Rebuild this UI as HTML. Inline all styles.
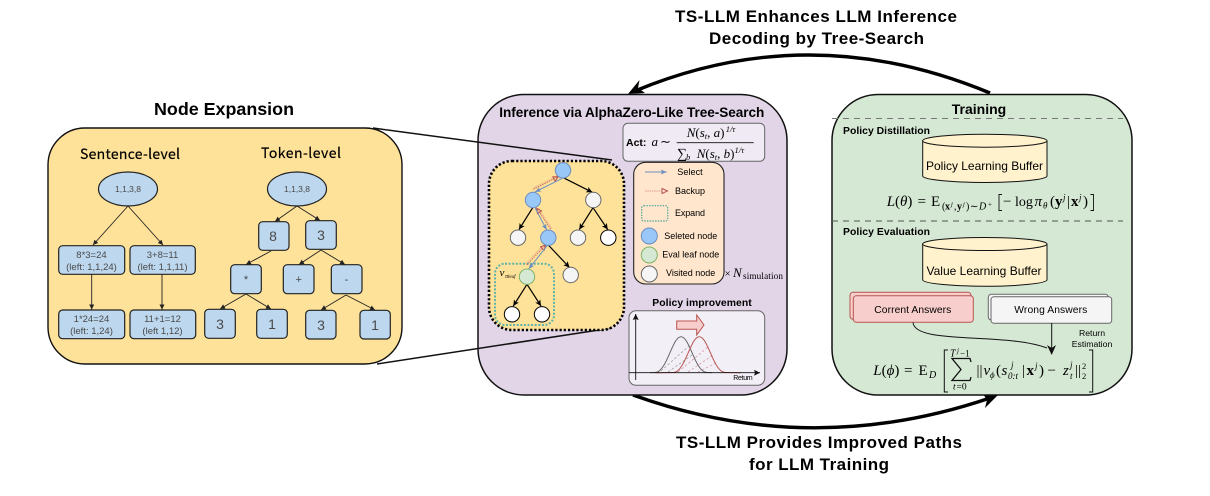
<!DOCTYPE html>
<html><head><meta charset="utf-8"><style>
html,body{margin:0;padding:0;background:#fff;width:1210px;height:496px;overflow:hidden}
svg{display:block}
text{font-family:"Liberation Sans",sans-serif;fill:#000}
.b{font-weight:bold}
.n{font-family:"Noto Sans CJK SC","Liberation Sans",sans-serif;stroke:#000;stroke-width:.2}
.m{text-anchor:middle}
.g{fill:#4a4a4a}
.s{font-family:"Liberation Serif",serif}
.i{font-family:"Liberation Serif",serif;font-style:italic}
.bd{font-family:"Liberation Serif",serif;font-weight:bold}
.bx{fill:#bdd7ee;stroke:#222;stroke-width:1.2}
.a1{stroke:#222;stroke-width:.9;fill:none;marker-end:url(#t)}
.t{stroke:#000;stroke-width:1.2;fill:none;marker-end:url(#v)}
.bl{fill:#99c7f8;stroke:#6c8ebf;stroke-width:1}
.gr{fill:#f5f5f5;stroke:#666;stroke-width:1}
.wh{fill:#fff;stroke:#000;stroke-width:1}
.ge{fill:#d5e8d4;stroke:#82b366;stroke-width:1}
.sel{stroke:#6c8ebf;stroke-width:1;fill:none;marker-end:url(#vb)}
.bk1{stroke:#f0c08c;stroke-width:1;fill:none}
.bk2{stroke:#c96a64;stroke-width:1;stroke-dasharray:1.5 1;fill:none;marker-end:url(#vr)}
</style></head><body>
<svg width="1210" height="496" viewBox="0 0 1210 496" xmlns="http://www.w3.org/2000/svg">
<defs>
<marker id="t" markerWidth="6" markerHeight="6" refX="5" refY="2.5" orient="auto" markerUnits="userSpaceOnUse"><path d="M0,0L5,2.5L0,5z" fill="#222"/></marker>
<marker id="v" markerWidth="8" markerHeight="8" refX="6" refY="3" orient="auto" markerUnits="userSpaceOnUse"><path d="M0,0L6,3L0,6L1.5,3z" fill="#000"/></marker>
<marker id="vb" markerWidth="8" markerHeight="8" refX="6" refY="3" orient="auto" markerUnits="userSpaceOnUse"><path d="M0,0.5L6,3L0,5.5L1.5,3z" fill="#6c8ebf"/></marker>
<marker id="vr" markerWidth="8" markerHeight="8" refX="5.5" refY="3" orient="auto" markerUnits="userSpaceOnUse"><path d="M0.5,0.5L5.5,3L0.5,5.5z" fill="none" stroke="#b85450" stroke-width="1"/></marker>
<marker id="k" markerWidth="8" markerHeight="8" refX="6" refY="3" orient="auto" markerUnits="userSpaceOnUse"><path d="M0,0L6,3L0,6L1,3z" fill="#111"/></marker>
</defs>

<!-- big arrows -->
<path d="M990,93 Q810,18 635,91" fill="none" stroke="#000" stroke-width="3.4"/>
<polygon points="628,94 639.5,80 638,88 645,93" fill="#000"/>
<path d="M633,395 Q810,459 990,398" fill="none" stroke="#000" stroke-width="3.4"/>
<polygon points="998,395 983,394 987,400 985,408" fill="#000"/>

<text class="b" x="675" y="22" font-size="17" textLength="282" lengthAdjust="spacing">TS-LLM Enhances LLM Inference</text>
<text class="b" x="709" y="44" font-size="17" textLength="215" lengthAdjust="spacing">Decoding by Tree-Search</text>
<text class="b" x="676" y="448" font-size="17" textLength="286" lengthAdjust="spacing">TS-LLM Provides Improved Paths</text>
<text class="b" x="749" y="470" font-size="17" textLength="140" lengthAdjust="spacing">for LLM Training</text>

<!-- Node expansion -->
<text class="b" x="154" y="115" font-size="17.9" textLength="140" lengthAdjust="spacing">Node Expansion</text>
<rect x="48" y="128" width="354" height="236" rx="37" fill="#ffe299" stroke="#111" stroke-width="1.4"/>
<text class="n" x="80" y="159" font-size="14" textLength="100" lengthAdjust="spacing">Sentence-level</text>
<text class="n" x="261" y="158" font-size="14" textLength="80" lengthAdjust="spacing">Token-level</text>

<ellipse cx="128" cy="189" rx="29.5" ry="17" class="bx"/>
<ellipse cx="297" cy="189" rx="29.5" ry="17" class="bx"/>
<text class="g m" x="128" y="192" font-size="8.5">1,1,3,8</text>
<text class="g m" x="297" y="192" font-size="8.5">1,1,3,8</text>

<line class="a1" x1="128" y1="206" x2="93" y2="245"/>
<line class="a1" x1="128" y1="206" x2="163" y2="245"/>
<line class="a1" x1="91.7" y1="274" x2="91.7" y2="309.5"/>
<line class="a1" x1="162" y1="274" x2="162" y2="309.5"/>
<line class="a1" x1="297" y1="206" x2="275" y2="221.5"/>
<line class="a1" x1="297" y1="206" x2="320" y2="220.5"/>
<line class="a1" x1="271" y1="251" x2="246" y2="264.5"/>
<line class="a1" x1="321" y1="250" x2="299" y2="264.5"/>
<line class="a1" x1="321" y1="250" x2="345" y2="264.5"/>
<line class="a1" x1="246" y1="294" x2="220" y2="309"/>
<line class="a1" x1="246" y1="294" x2="271" y2="309"/>
<line class="a1" x1="346" y1="295" x2="321" y2="310"/>
<line class="a1" x1="346" y1="295" x2="375" y2="310"/>

<rect class="bx" x="58.7" y="245.7" width="66" height="28.6" rx="4"/>
<rect class="bx" x="130" y="245.7" width="65.3" height="28.6" rx="4"/>
<rect class="bx" x="58.7" y="310" width="66" height="28.7" rx="4"/>
<rect class="bx" x="130" y="310" width="65.7" height="28.7" rx="4"/>
<text class="g m" x="91.5" y="258" font-size="9.5">8*3=24</text>
<text class="g m" x="91.5" y="270" font-size="9.5">(left: 1,1,24)</text>
<text class="g m" x="162.5" y="258" font-size="9.5">3+8=11</text>
<text class="g m" x="162.5" y="270" font-size="9.5">(left: 1,1,11)</text>
<text class="g m" x="91.5" y="322" font-size="9.5">1*24=24</text>
<text class="g m" x="91.5" y="334" font-size="9.5">(left: 1,24)</text>
<text class="g m" x="162.5" y="322" font-size="9.5">11+1=12</text>
<text class="g m" x="162.5" y="334" font-size="9.5">(left 1,12)</text>

<rect class="bx" x="258.7" y="221.7" width="30.3" height="28.6" rx="4"/>
<rect class="bx" x="305.7" y="220.7" width="30.6" height="28.6" rx="4"/>
<rect class="bx" x="230.7" y="264.7" width="30.6" height="29" rx="4"/>
<rect class="bx" x="283.3" y="264.7" width="30.7" height="29" rx="4"/>
<rect class="bx" x="331.3" y="264.7" width="30.7" height="29" rx="4"/>
<rect class="bx" x="204.7" y="309.3" width="30.6" height="29" rx="4"/>
<rect class="bx" x="256.7" y="309.3" width="30.6" height="29" rx="4"/>
<rect class="bx" x="305.7" y="310.3" width="30.3" height="28.7" rx="4"/>
<rect class="bx" x="360" y="310.3" width="30.3" height="28.7" rx="4"/>
<text class="g m" x="273" y="241" font-size="14">8</text>
<text class="g m" x="321" y="240" font-size="14">3</text>
<text class="g m" x="246" y="283" font-size="11">*</text>
<text class="g m" x="298.7" y="283" font-size="11">+</text>
<text class="g m" x="346.5" y="283" font-size="11">-</text>
<text class="g m" x="220" y="329" font-size="14">3</text>
<text class="g m" x="272" y="329" font-size="14">1</text>
<text class="g m" x="321" y="330" font-size="14">3</text>
<text class="g m" x="375" y="330" font-size="14">1</text>

<!-- Purple panel -->
<rect x="478" y="94.5" width="309" height="300.5" rx="46" fill="#e1d5e7" stroke="#111" stroke-width="1.5"/>
<text class="b" x="499.3" y="117" font-size="13.6" textLength="265" lengthAdjust="spacing">Inference via AlphaZero-Like Tree-Search</text>

<line x1="373" y1="128" x2="612" y2="160" stroke="#111" stroke-width="1.5"/>
<line x1="377" y1="364" x2="612" y2="328" stroke="#111" stroke-width="1.5"/>

<rect x="623" y="123.3" width="141.7" height="38" rx="5" fill="#efeaf3" stroke="#666" stroke-width="1"/>
<text class="b" x="626" y="146" font-size="10.5">Act:</text>
<text class="i" x="651.5" y="146" font-size="13">a</text>
<text class="s" x="660" y="146" font-size="13">∼</text>
<text class="s" x="686.7" y="137" font-size="13"><tspan font-style="italic">N</tspan>(<tspan font-style="italic">s</tspan><tspan font-size="8.5" dy="2" font-style="italic">t</tspan><tspan dy="-2">, </tspan><tspan font-style="italic">a</tspan>)</text>
<text class="i" x="725.7" y="132" font-size="8.5">1/τ</text>
<line x1="676.7" y1="142.7" x2="753.7" y2="142.7" stroke="#111" stroke-width=".9"/>
<text class="s" x="677" y="158" font-size="14">∑</text>
<text class="i" x="686" y="160" font-size="8.5">b</text>
<text class="s" x="696.7" y="158" font-size="13"><tspan font-style="italic">N</tspan>(<tspan font-style="italic">s</tspan><tspan font-size="8.5" dy="2" font-style="italic">t</tspan><tspan dy="-2">, </tspan><tspan font-style="italic">b</tspan>)</text>
<text class="i" x="734.5" y="153" font-size="8.5">1/τ</text>

<!-- dotted panel -->
<rect x="489" y="161" width="135" height="169" rx="23" fill="#fee299" stroke="#000" stroke-width="2.6" stroke-dasharray="2.2 2"/>
<rect x="495" y="263.7" width="59" height="61.3" rx="10" fill="none" stroke="#5fb3a8" stroke-width="2" stroke-dasharray="2 1.6"/>

<line class="t" x1="563.3" y1="177.7" x2="592.3" y2="192.3"/>
<line class="t" x1="532.7" y1="207.7" x2="519" y2="229.5"/>
<line class="t" x1="593" y1="207.7" x2="579.3" y2="229.5"/>
<line class="t" x1="593" y1="207.7" x2="607.7" y2="229.5"/>
<line class="t" x1="548.3" y1="245" x2="569.5" y2="267.5"/>
<line class="t" x1="527" y1="284.3" x2="513.3" y2="306"/>
<line class="t" x1="527" y1="284.3" x2="541" y2="306"/>

<line class="bk1" x1="533.3" y1="188" x2="558.3" y2="175.4"/>
<line class="bk2" x1="533.3" y1="189.3" x2="558.3" y2="176.7"/>
<line class="bk1" x1="552" y1="228.5" x2="538" y2="208"/>
<line class="bk2" x1="550.7" y1="229" x2="536.7" y2="208.3"/>
<line class="bk1" x1="525.5" y1="264" x2="544.5" y2="244"/>
<line class="bk2" x1="526.7" y1="265" x2="545.7" y2="245"/>
<line class="sel" x1="562.3" y1="178.3" x2="535" y2="192"/>
<line class="sel" x1="535" y1="207.7" x2="546.7" y2="230"/>
<line class="sel" x1="547.7" y1="245" x2="528.7" y2="269"/>

<circle class="bl" cx="563" cy="170.3" r="7.7"/>
<circle class="bl" cx="533" cy="200" r="7.7"/>
<circle class="gr" cx="593.3" cy="200" r="7.7"/>
<circle class="gr" cx="518" cy="237.7" r="7.7"/>
<circle class="bl" cx="548.3" cy="237.7" r="7.7"/>
<circle class="gr" cx="578" cy="237.7" r="7.7"/>
<circle class="wh" cx="608.3" cy="237.7" r="7.7"/>
<circle class="ge" cx="527" cy="276.7" r="7.7"/>
<circle class="gr" cx="570.7" cy="275" r="7.7"/>
<circle class="wh" cx="512" cy="314.3" r="7.7"/>
<circle class="wh" cx="542" cy="314.3" r="7.7"/>
<text class="i" x="499.5" y="276" font-size="11">v</text>
<text class="i" x="505" y="278" font-size="6">π<tspan font-size="5" dy="0">leaf</tspan></text>

<!-- Legend -->
<rect x="633.7" y="162.3" width="90.3" height="121.7" rx="12" fill="#ffe6cc" stroke="#222" stroke-width="1.1"/>
<line class="sel" x1="645" y1="172" x2="666.7" y2="172"/>
<text x="677.3" y="175" font-size="9.1" textLength="25.4" lengthAdjust="spacing" fill="#222">Select</text>
<line x1="645" y1="191" x2="662" y2="191" stroke="#e7a9a0" stroke-width="1.2" stroke-dasharray="1.5 .8"/>
<path d="M662,188.5L667.5,191L662,193.5z" fill="none" stroke="#b85450"/>
<text x="675" y="194" font-size="9" textLength="30" lengthAdjust="spacing">Backup</text>
<rect x="641.7" y="205.7" width="26" height="15.3" rx="2" fill="none" stroke="#4fa59a" stroke-width="1.2" stroke-dasharray="1.5 1.2"/>
<text x="675" y="216" font-size="9" textLength="30" lengthAdjust="spacing">Expand</text>
<circle class="bl" cx="649.3" cy="236" r="8"/>
<text x="664.3" y="239" font-size="9" textLength="53" lengthAdjust="spacing">Seleted node</text>
<circle class="ge" cx="649.3" cy="255" r="8"/>
<text x="662.3" y="257.7" font-size="9" textLength="57" lengthAdjust="spacing">Eval leaf node</text>
<circle class="gr" cx="649.3" cy="274" r="8"/>
<text x="666" y="276" font-size="9" textLength="49.3" lengthAdjust="spacing">Visited node</text>
<text class="s" x="724.5" y="277" font-size="11">×</text>
<text class="i" x="733" y="277" font-size="13">N</text>
<text class="s" x="743" y="279" font-size="9.2" textLength="40" lengthAdjust="spacing">simulation</text>

<!-- Policy improvement -->
<text class="b" x="652.3" y="306" font-size="10.4" textLength="99.4" lengthAdjust="spacing">Policy improvement</text>
<rect x="629" y="310.7" width="135.7" height="74.6" rx="7" fill="#f3eff6" stroke="#666" stroke-width="1"/>
<polygon points="676.7,321 696.7,321 696.7,315 704,325 696.7,335 696.7,329.3 676.7,329.3" fill="#f8cecc" stroke="#b85450" stroke-width="1"/>
<g stroke-width=".6" stroke-dasharray="2.5 2" fill="none">
<path d="M661,371 L690,345 M668,372 L692,355" stroke="#888"/>
<path d="M678,372 L708,347 M688,372 L713,355 M698,372 L716,363" stroke="#c88"/>
</g>
<path d="M650,372.6 L655,372.5 C667,372.5 672,336.7 681,336.7 C690,336.7 695,372.5 707,372.5 L712,372.6" fill="none" stroke="#666" stroke-width="1"/>
<path d="M655,372.7 L673.3,372.5 C685.3,372.5 690.3,336.7 699.3,336.7 C708.3,336.7 713.3,372.5 725.3,372.5 L741,372.7" fill="none" stroke="#b85450" stroke-width="1"/>
<line x1="635.7" y1="380" x2="635.7" y2="314" stroke="#111" stroke-width=".9" marker-end="url(#k)"/>
<line x1="629" y1="372.7" x2="760" y2="372.7" stroke="#111" stroke-width=".9" marker-end="url(#k)"/>
<text x="733.3" y="380" font-size="7" textLength="19.4" lengthAdjust="spacing" fill="#333">Return</text>

<!-- Green panel -->
<rect x="832" y="94.5" width="300" height="300.5" rx="46" fill="#d5e8d4" stroke="#111" stroke-width="1.5"/>
<text class="b m" x="979" y="114" font-size="14">Training</text>
<line x1="832" y1="118.5" x2="1123" y2="118.5" stroke="#777" stroke-width="1" stroke-dasharray="6 5"/>
<line x1="832" y1="221" x2="1123" y2="221" stroke="#555" stroke-width="1" stroke-dasharray="6 5"/>
<text class="b" x="843" y="134" font-size="10.4" textLength="87" lengthAdjust="spacing">Policy Distillation</text>
<text class="b" x="843" y="235" font-size="10.4" textLength="87" lengthAdjust="spacing">Policy Evaluation</text>

<path d="M922.7,140.7 V176.2 A62.2,6.5 0 0 0 1047,176.2 V140.7" fill="#fff2cc" stroke="#111"/>
<ellipse cx="984.8" cy="140.7" rx="62.2" ry="6.5" fill="#fff2cc" stroke="#111"/>
<text class="m" x="984.5" y="170" font-size="12" textLength="117" lengthAdjust="spacing">Policy Learning Buffer</text>
<path d="M922.7,244 V280 A62.2,6.5 0 0 0 1047,280 V244" fill="#fff2cc" stroke="#111"/>
<ellipse cx="984.8" cy="244" rx="62.2" ry="6.5" fill="#fff2cc" stroke="#111"/>
<text x="926.5" y="275" font-size="12" textLength="115" lengthAdjust="spacing">Value Learning Buffer</text>

<!-- L(theta) -->
<text class="s" x="886.7" y="206" font-size="15"><tspan font-style="italic">L</tspan>(<tspan font-style="italic">θ</tspan>)</text>
<text class="s" x="917.5" y="206" font-size="15">=</text>
<text class="s" x="931" y="206" font-size="15">E</text>
<text class="s" x="942" y="209.5" font-size="10">(</text>
<text class="bd" x="945" y="209.5" font-size="10">x</text>
<text class="i" x="951" y="206" font-size="6.5">j</text>
<text class="s" x="954" y="209.5" font-size="10">,</text>
<text class="bd" x="957" y="209.5" font-size="10">y</text>
<text class="i" x="963" y="206" font-size="6.5">j</text>
<text class="s" x="966" y="209.5" font-size="10">)</text>
<text class="s" x="970" y="209.5" font-size="10">∼</text>
<text class="i" x="979" y="209.5" font-size="10">D</text>
<text class="s" x="988" y="206.5" font-size="7">+</text>
<path d="M1002,194.5 H999 V210.5 H1002" fill="none" stroke="#111" stroke-width=".9"/>
<text class="s" x="1003" y="206" font-size="15">−</text>
<text class="s" x="1015" y="206" font-size="14">log</text>
<text class="i" x="1034.5" y="206" font-size="15">π</text>
<text class="i" x="1043" y="208.5" font-size="9">θ</text>
<text class="s" x="1050" y="206" font-size="15">(</text>
<text class="bd" x="1055" y="206" font-size="15">y</text>
<text class="i" x="1063" y="200.5" font-size="9">j</text>
<text class="s" x="1067" y="206" font-size="15">|</text>
<text class="bd" x="1071" y="206" font-size="15">x</text>
<text class="i" x="1079" y="200.5" font-size="9">j</text>
<text class="s" x="1083" y="206" font-size="15">)</text>
<path d="M1090.5,194.5 H1093.5 V210.5 H1090.5" fill="none" stroke="#111" stroke-width=".9"/>

<!-- answers -->
<rect x="850" y="292.3" width="121" height="27" rx="3" fill="#f8cecc" stroke="#b85450"/>
<rect x="853.3" y="295.7" width="120" height="26.6" rx="3" fill="#f8cecc" stroke="#b85450"/>
<text x="874.3" y="313" font-size="10.3" textLength="77" lengthAdjust="spacing" fill="#222">Corrent Answers</text>
<rect x="988.3" y="294.3" width="120" height="25.7" rx="3" fill="#f5f5f5" stroke="#666"/>
<rect x="991" y="296.7" width="120.7" height="26.6" rx="3" fill="#f5f5f5" stroke="#666"/>
<text x="1014.3" y="313" font-size="10.3" textLength="73" lengthAdjust="spacing" fill="#444">Wrong Answers</text>
<path d="M913,322.5 C915,345 1005,332 1047,348" fill="none" stroke="#111" stroke-width="1"/>
<line x1="1051.7" y1="323" x2="1051.7" y2="353" stroke="#111" stroke-width="1"/>
<polygon points="1051.7,355 1047,345 1051.7,348 1056,345" fill="#111"/>
<text class="m" x="1092" y="336" font-size="8.7" fill="#222">Return</text>
<text class="m" x="1092" y="347" font-size="8.7" fill="#222">Estimation</text>

<!-- L(phi) -->
<text class="s" x="873.3" y="375" font-size="15"><tspan font-style="italic">L</tspan>(<tspan font-style="italic">ϕ</tspan>)</text>
<text class="s" x="904" y="375" font-size="15">=</text>
<text class="s" x="918.5" y="375" font-size="15">E</text>
<text class="i" x="929" y="378" font-size="10">D</text>
<path d="M948,350 H944.3 V392 H948" fill="none" stroke="#111" stroke-width="1"/>
<path d="M1089,350 H1092.7 V392 H1089" fill="none" stroke="#111" stroke-width="1"/>
<path d="M971,362 L970,358.5 H952 L961,369.5 L952,380.5 H970 L971,377" fill="none" stroke="#111" stroke-width="1.3"/>
<text class="i" x="950" y="356.5" font-size="10">T</text>
<text class="i" x="957" y="353" font-size="7">j</text>
<text class="s" x="960" y="356.5" font-size="9">−1</text>
<text class="i" x="953" y="389.5" font-size="9.5">t</text>
<text class="s" x="956.5" y="389.5" font-size="9.5">=0</text>
<text class="s" x="976.5" y="375" font-size="15">||</text>
<text class="i" x="983.5" y="375" font-size="15">v</text>
<text class="i" x="990" y="378" font-size="9">ϕ</text>
<text class="s" x="996" y="375" font-size="15">(</text>
<text class="i" x="1001.5" y="375" font-size="15">s</text>
<text class="i" x="1011" y="368" font-size="9">j</text>
<text class="i" x="1008" y="379" font-size="9">0:t</text>
<text class="s" x="1022" y="375" font-size="15">|</text>
<text class="bd" x="1026.5" y="375" font-size="15">x</text>
<text class="i" x="1035" y="369" font-size="9">j</text>
<text class="s" x="1039" y="375" font-size="15">)</text>
<text class="s" x="1047.5" y="375" font-size="15">−</text>
<text class="i" x="1063" y="375" font-size="15">z</text>
<text class="i" x="1070" y="368" font-size="9">j</text>
<text class="i" x="1070" y="379" font-size="9">t</text>
<text class="s" x="1075" y="375" font-size="15">||</text>
<text class="s" x="1082" y="369" font-size="8.5">2</text>
<text class="s" x="1082" y="379" font-size="8.5">2</text>
</svg>
</body></html>
